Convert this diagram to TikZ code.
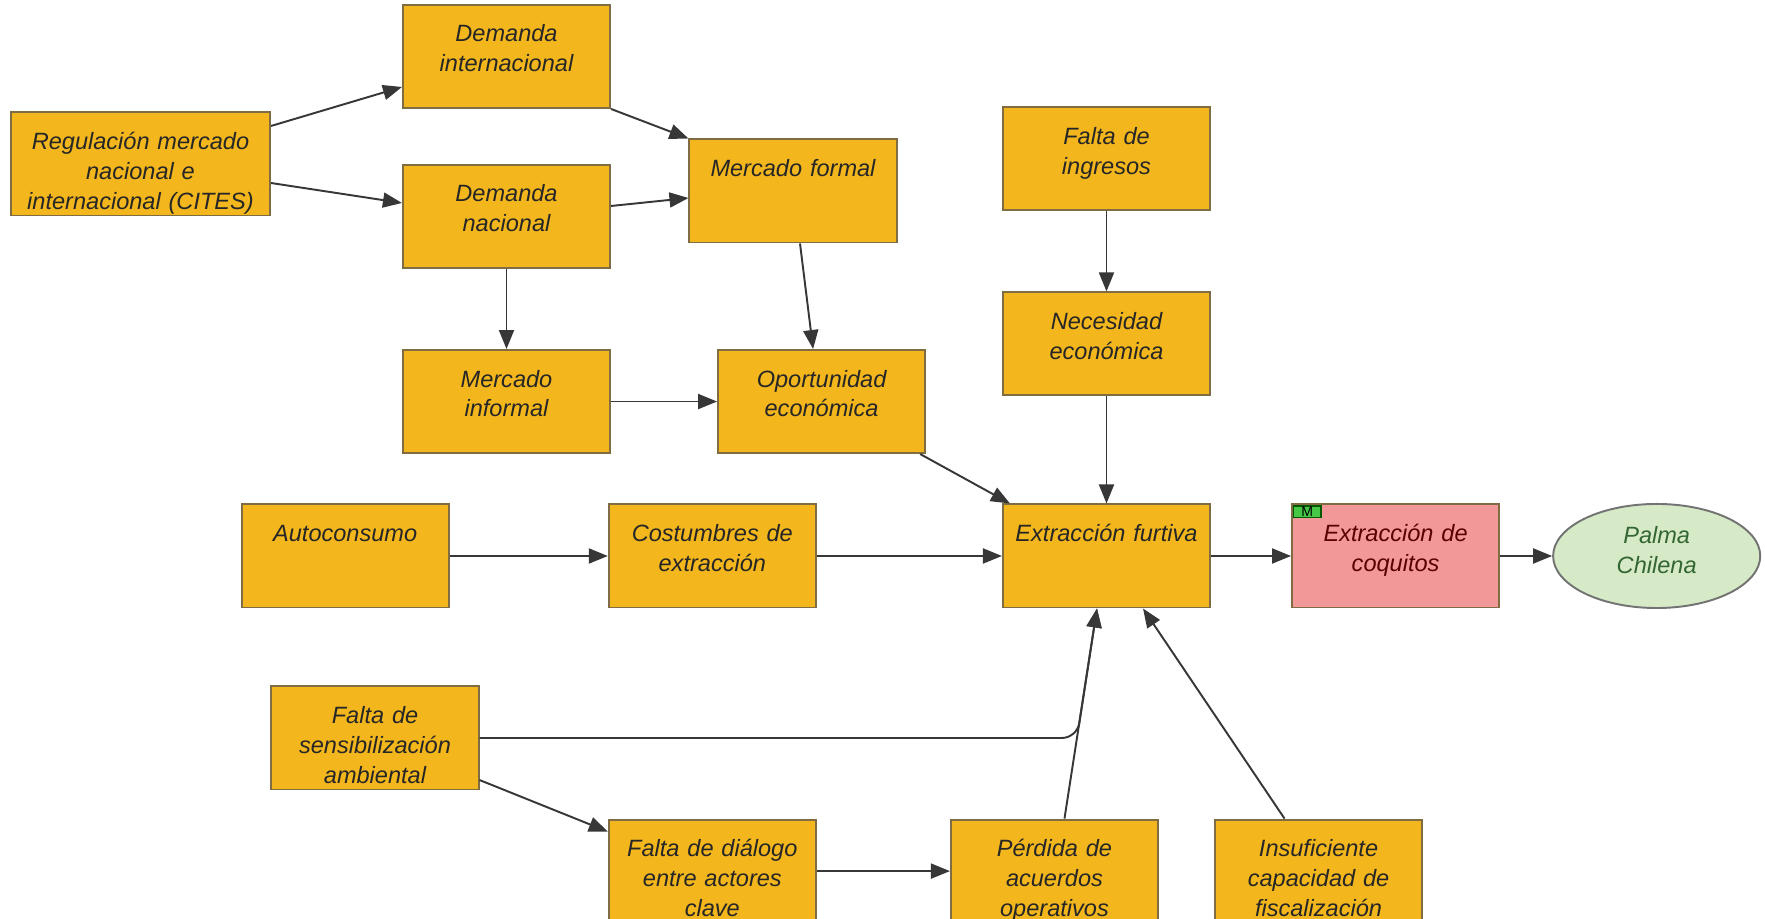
\documentclass[tikz,border=0pt]{standalone}
\usepackage{fontspec}
\setmainfont{Liberation Sans}
\usetikzlibrary{arrows.meta,positioning,shapes.geometric}

\definecolor{caja}{RGB}{243,183,29}
\definecolor{borde}{RGB}{128,108,66}
\definecolor{rosa}{RGB}{242,152,152}
\definecolor{verdeclaro}{RGB}{214,234,200}
\definecolor{verdetag}{RGB}{70,200,70}
\definecolor{linea}{RGB}{55,55,55}

\tikzset{
  causa/.style={rectangle,draw=borde,fill=caja,line width=0.55pt,
    text width=1.97cm,align=center,inner xsep=0.05cm,inner ysep=0.1cm,
    text height=0.27cm,text depth=0.56cm,
    font=\fontsize{6.7}{8.5}\selectfont\itshape,text=black!85},
  causaancha/.style={causa,text width=2.53cm,inner xsep=0.03cm},
  amenaza/.style={causa,fill=rosa,text=red!35!black},
  objeto/.style={ellipse,draw=black!55,fill=verdeclaro,line width=0.55pt,
    minimum width=2.07cm,minimum height=1.04cm,inner sep=0pt,
    text width=1.4cm,align=center,text height=0.2cm,text depth=0.44cm,
    font=\fontsize{6.7}{8.5}\selectfont\itshape,text=green!25!black!80},
  mtag/.style={rectangle,draw=green!35!black,fill=verdetag,line width=0.4pt,
    minimum width=0.27cm,minimum height=0.11cm,inner sep=0pt,
    font=\fontsize{4}{4}\selectfont,text=black},
  flecha/.style={draw=linea,line width=0.55pt,-{Triangle[length=0.19cm,width=0.15cm]}},
}

\begin{document}
\begin{tikzpicture}[x=0.01cm,y=-0.01cm]
\useasboundingbox (0,0) rectangle (1765,919);

\node[causaancha] (reg) at (140.5,164) {Regulación mercado\\ nacional e\\ internacional (CITES)};
\node[causa] (dnac) at (506.5,216.5) {Demanda\\ nacional};
\node[causa,above=0.55cm of dnac] (dint) {Demanda\\ internacional};
\node[causa,below=0.8cm of dnac] (minf) {Mercado\\ informal};
\node[causa] (mform) at (793,191) {Mercado formal};
\node[causa,right=1.06cm of minf] (oport) {Oportunidad\\ económica};
\node[causa] (efur) at (1106.5,556) {Extracción furtiva};
\node[causa,above=1.07cm of efur] (necs) {Necesidad\\ económica};
\node[causa,above=0.8cm of necs] (fing) {Falta de\\ ingresos};
\node[amenaza,right=0.8cm of efur] (coq) {Extracción de\\ coquitos};
\node[mtag,anchor=north west] (mt) at ([xshift=0.02cm,yshift=-0.02cm]coq.north west) {M};
\node[objeto,right=0.52cm of coq] (palma) {Palma\\ Chilena};
\node[causa,left=1.85cm of efur] (cost) {Costumbres de\\ extracción};
\node[causa,left=1.58cm of cost] (auto) {Autoconsumo};
\node[causa] (sens) at (375,738) {Falta de\\ sensibilización\\ ambiental};
\node[causa,below=2.1cm of cost] (dial) {Falta de diálogo\\ entre actores\\ clave};
\node[causa,right=1.33cm of dial] (perd) {Pérdida de\\ acuerdos\\ operativos};
\node[causa,right=0.55cm of perd] (insu) {Insuficiente\\ capacidad de\\ fiscalización};

\coordinate (efurin) at ([xshift=-0.095cm]efur.south);
\coordinate (sensbend) at (1077,738);

\draw[flecha] ([yshift=0.38cm]reg.east) -- ([yshift=-0.305cm]dint.west);
\draw[flecha] ([yshift=-0.19cm]reg.east) -- ([yshift=0.135cm]dnac.west);
\draw[flecha] (dint.south east) -- (mform.north west);
\draw[flecha] ([yshift=0.105cm]dnac.east) -- ([yshift=-0.07cm]mform.west);
\draw[flecha] (dnac.south) -- (minf.north);
\draw[flecha] ([xshift=0.07cm]mform.south) -- ([xshift=-0.085cm]oport.north);
\draw[flecha] (minf.east) -- (oport.west);
\draw[flecha] ([xshift=-0.06cm]oport.south east) -- ([xshift=0.08cm]efur.north west);
\draw[flecha] (fing.south) -- (necs.north);
\draw[flecha] (necs.south) -- (efur.north);
\draw[flecha] (auto.east) -- (cost.west);
\draw[flecha] (cost.east) -- (efur.west);
\draw[flecha] (efur.east) -- (coq.west);
\draw[flecha] (coq.east) -- (palma.west);
\draw[flecha,rounded corners=0.15cm] (sens.east) -- (sensbend) -- (efurin);
\draw[flecha] ([yshift=-0.42cm]sens.east) -- ([yshift=0.395cm]dial.west);
\draw[flecha] (dial.east) -- (perd.west);
\draw[flecha] ([xshift=0.1cm]perd.north) -- (efurin);
\draw[flecha] ([xshift=-0.34cm]insu.north) -- ([xshift=0.365cm]efur.south);
\end{tikzpicture}
\end{document}
